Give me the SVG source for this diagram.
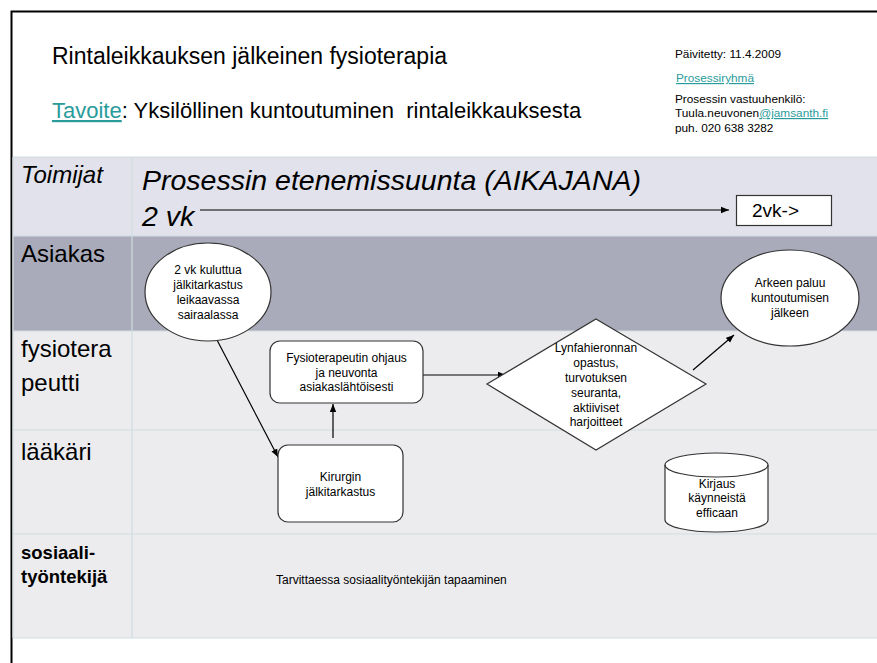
<svg xmlns="http://www.w3.org/2000/svg" width="877" height="663" viewBox="0 0 877 663">
<defs>
<marker id="ah" viewBox="0 0 10 10" refX="10" refY="5" markerWidth="8" markerHeight="8" markerUnits="userSpaceOnUse" orient="auto">
<path d="M0,1 L10,5 L0,9 Z" fill="#000"/>
</marker>
<style>
text{font-family:"Liberation Sans",Arial,sans-serif;fill:#000}
.lane{fill:#ececef}
.hdr{fill:#e1e2eb}
.dark{fill:#aaabba}
.grid{stroke:#cfdde0;stroke-width:1.2;fill:none}
.lbl{font-size:24px}
.node{fill:#fff;stroke:#333;stroke-width:1.2}
.nt{font-size:12px;text-anchor:middle}
.conn{stroke:#000;stroke-width:1.2;fill:none;marker-end:url(#ah)}
.link{fill:#2a9b9b;text-decoration:underline}
.meta{font-size:11.8px}
</style>
</defs>
<rect x="0" y="0" width="877" height="663" fill="#fff"/>
<!-- frame -->
<path d="M11.5,663 V11.5 H877" fill="none" stroke="#000" stroke-width="2"/>

<!-- heading -->
<g id="heading">
<text x="52" y="64" font-size="23">Rintaleikkauksen jälkeinen fysioterapia</text>
<text x="52" y="118" font-size="22" style="white-space:pre"><tspan class="link">Tavoite</tspan>: Yksilöllinen kuntoutuminen  rintaleikkauksesta</text>
</g>
<g id="meta">
<text x="675" y="58" class="meta">Päivitetty: 11.4.2009</text>
<text x="676" y="82" class="meta link">Prosessiryhmä</text>
<text x="675" y="103" class="meta">Prosessin vastuuhenkilö:</text>
<text x="675" y="117" class="meta">Tuula.neuvonen<tspan class="link">@jamsanth.fi</tspan></text>
<text x="675" y="132" class="meta">puh. 020 638 3282</text>
</g>

<!-- lanes -->
<g id="lanes">
<rect x="13" y="157" width="864" height="79" class="hdr"/>
<rect x="13" y="236" width="864" height="95" class="dark"/>
<rect x="13" y="331" width="864" height="99" class="lane"/>
<rect x="13" y="430" width="864" height="104" class="lane"/>
<rect x="13" y="534" width="864" height="104" class="lane"/>
<path class="grid" d="M13,157 H877 M13,236 H877 M13,331 H877 M13,430 H877 M13,534 H877 M13,638 H877 M13,157 V638 M132,157 V638"/>
<text x="21" y="183" class="lbl" font-style="italic">Toimijat</text>
<text x="142" y="190" font-size="28.5" font-style="italic">Prosessin etenemissuunta (AIKAJANA)</text>
<text x="142" y="226" font-size="28.5" font-style="italic">2 vk</text>
<text x="21" y="262" class="lbl">Asiakas</text>
<text x="21" y="357" class="lbl">fysiotera</text>
<text x="21" y="391" class="lbl">peutti</text>
<text x="21" y="460" class="lbl">lääkäri</text>
<text x="21" y="559" font-size="18.5" font-weight="bold">sosiaali-</text>
<text x="21" y="583" font-size="18.5" font-weight="bold">työntekijä</text>
</g>

<!-- connectors -->
<g id="connectors">
<line class="conn" x1="200" y1="210" x2="729" y2="210"/>
<line class="conn" x1="217" y1="340" x2="278" y2="457"/>
<line class="conn" x1="333" y1="438" x2="333" y2="404"/>
<line class="conn" x1="423" y1="375" x2="506" y2="375"/>
<line class="conn" x1="693" y1="370" x2="734" y2="335"/>
</g>

<!-- nodes -->
<g id="n-2vk">
<rect x="736.5" y="195.5" width="95" height="30" fill="#fff" stroke="#333" stroke-width="1.2"/>
<text x="752" y="217" font-size="19">2vk-&gt;</text>
</g>
<g id="n-kuluttua">
<ellipse cx="208" cy="292" rx="63" ry="49" class="node"/>
<text class="nt" x="208" y="274">2 vk kuluttua</text>
<text class="nt" x="208" y="289">jälkitarkastus</text>
<text class="nt" x="208" y="304">leikaavassa</text>
<text class="nt" x="208" y="319">sairaalassa</text>
</g>
<g id="n-arkeen">
<ellipse cx="790" cy="298" rx="69" ry="48" class="node"/>
<text class="nt" x="790" y="287">Arkeen paluu</text>
<text class="nt" x="790" y="302">kuntoutumisen</text>
<text class="nt" x="790" y="317">jälkeen</text>
</g>
<g id="n-ohjaus">
<rect x="270" y="341" width="153" height="62" rx="10" class="node"/>
<text class="nt" x="346.5" y="362">Fysioterapeutin ohjaus</text>
<text class="nt" x="346.5" y="377">ja neuvonta</text>
<text class="nt" x="346.5" y="391">asiakaslähtöisesti</text>
</g>
<g id="n-kirurgin">
<rect x="278" y="445" width="125" height="77" rx="10" class="node"/>
<text class="nt" x="340.5" y="481">Kirurgin</text>
<text class="nt" x="340.5" y="496">jälkitarkastus</text>
</g>
<g id="n-lynfa">
<polygon points="596,319 706,384 596,450 487,384" class="node"/>
<text class="nt" x="596" y="352">Lynfahieronnan</text>
<text class="nt" x="596" y="367">opastus,</text>
<text class="nt" x="596" y="382">turvotuksen</text>
<text class="nt" x="596" y="397">seuranta,</text>
<text class="nt" x="596" y="412">aktiiviset</text>
<text class="nt" x="596" y="426">harjoitteet</text>
</g>
<g id="n-kirjaus">
<path d="M665,465 V520 A51.5,12 0 0 0 768,520 V465 A51.5,12 0 0 0 665,465 Z" class="node"/>
<path d="M665,465 A51.5,12 0 0 0 768,465" fill="none" stroke="#333" stroke-width="1.2"/>
<text class="nt" x="717" y="488">Kirjaus</text>
<text class="nt" x="717" y="502">käynneistä</text>
<text class="nt" x="717" y="517">efficaan</text>
</g>
<g id="n-sosiaali">
<text x="276" y="584" font-size="12">Tarvittaessa sosiaalityöntekijän tapaaminen</text>
</g>
</svg>
